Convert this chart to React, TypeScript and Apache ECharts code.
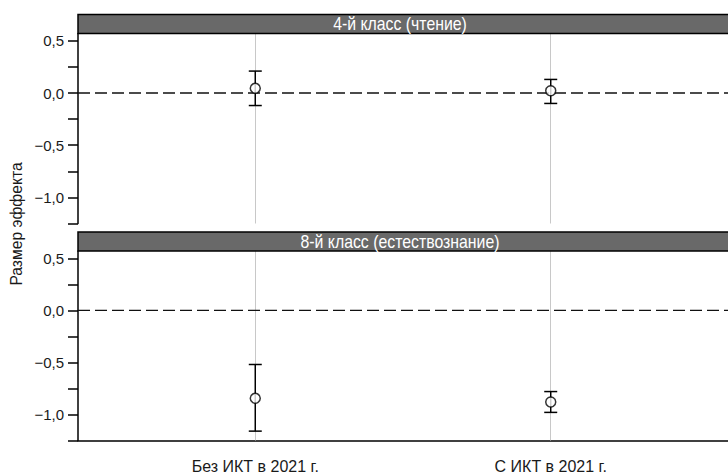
import React, { useEffect, useRef } from "react";
import * as echarts from "echarts";

const categories = ["Без ИКТ в 2021 г.", "С ИКТ в 2021 г."];
const categoryPositions = [1, 2];
const panelTitles = ["4-й класс (чтение)", "8-й класс (естествознание)"];
const yAxisTitle = "Размер эффекта";

const readingEstimate = [0.045, 0.022];
const readingLower = [-0.12, -0.1];
const readingUpper = [0.21, 0.13];

const scienceEstimate = [-0.845, -0.88];
const scienceLower = [-1.16, -0.98];
const scienceUpper = [-0.52, -0.78];

const yTickValues = [-1.25, -1, -0.75, -0.5, -0.25, 0, 0.25, 0.5];
const yLabelValues = [-1, -0.5, 0, 0.5];
const referenceValue = 0;
const xExtent = [0.4, 2.6];

const FONT = "'Liberation Sans', Arial, sans-serif";

const fmt = (v: number) => {
  const s = Math.abs(v).toFixed(1).replace(".", ",");
  return v < 0 ? "\u2212" + s : s;
};

export default function App() {
  const ref = useRef<HTMLDivElement>(null);
  useEffect(() => {
    document.body.style.margin = "0";
    const chart = echarts.init(ref.current!, null, { renderer: "svg" });

    const gridLeft = 78;
    const gridWidth = 654;
    const grids = [
      { left: gridLeft, top: 33.5, width: gridWidth, height: 190 },
      { left: gridLeft, top: 251, width: gridWidth, height: 189.5 },
    ];

    const xAxes = grids.map((_, i) => ({
      type: "value",
      gridIndex: i,
      min: xExtent[0],
      max: xExtent[1],
      axisLine: { show: i === 1, onZero: false, lineStyle: { color: "#000", width: 1.5 } },
      axisTick: { show: false },
      splitLine: { show: false },
      axisLabel: {
        show: i === 1,
        customValues: categoryPositions,
        formatter: (v: number) => categories[categoryPositions.indexOf(v)] ?? "",
        fontFamily: FONT,
        fontSize: 16,
        color: "#1a1a1a",
        margin: 18,
      },
    }));

    const yAxes = grids.map((_, i) => ({
      type: "value",
      gridIndex: i,
      min: -1.25,
      max: 0.57,
      axisLine: { show: true, onZero: false, lineStyle: { color: "#000", width: 1.5 } },
      axisTick: {
        show: true,
        length: 10,
        customValues: yTickValues,
        lineStyle: { color: "#000", width: 1.5 },
      },
      splitLine: { show: false },
      axisLabel: {
        customValues: yLabelValues,
        formatter: (v: number) => fmt(v),
        fontFamily: FONT,
        fontSize: 15,
        color: "#1a1a1a",
        margin: 14,
      },
    }));

    const panels = [
      { est: readingEstimate, lo: readingLower, hi: readingUpper },
      { est: scienceEstimate, lo: scienceLower, hi: scienceUpper },
    ];

    const series: any[] = [];
    panels.forEach((p, i) => {
      series.push({
        type: "scatter",
        xAxisIndex: i,
        yAxisIndex: i,
        data: [],
        silent: true,
        markLine: {
          silent: true,
          symbol: "none",
          z: 1,
          label: { show: false },
          lineStyle: { color: "#c8c8c8", width: 1, type: "solid" },
          data: categoryPositions.map((c) => ({ xAxis: c })),
        },
      });
      series.push({
        type: "line",
        xAxisIndex: i,
        yAxisIndex: i,
        z: 2,
        silent: true,
        symbol: "none",
        lineStyle: { color: "#111", width: 1.4, type: [12, 5] },
        data: [
          [xExtent[0], referenceValue],
          [xExtent[1], referenceValue],
        ],
      });
      series.push({
        type: "custom",
        xAxisIndex: i,
        yAxisIndex: i,
        z: 3,
        silent: true,
        encode: { x: 0, y: [1, 2] },
        data: categoryPositions.map((c, k) => [c, p.lo[k], p.hi[k]]),
        renderItem: (params: any, api: any) => {
          const x = api.value(0);
          const top = api.coord([x, api.value(2)]);
          const bot = api.coord([x, api.value(1)]);
          const w = 6.5;
          const st = { stroke: "#000", lineWidth: 1.5 };
          return {
            type: "group",
            children: [
              { type: "line", shape: { x1: top[0], y1: top[1], x2: bot[0], y2: bot[1] }, style: st },
              { type: "line", shape: { x1: top[0] - w, y1: top[1], x2: top[0] + w, y2: top[1] }, style: st },
              { type: "line", shape: { x1: bot[0] - w, y1: bot[1], x2: bot[0] + w, y2: bot[1] }, style: st },
            ],
          };
        },
      });
      series.push({
        type: "scatter",
        xAxisIndex: i,
        yAxisIndex: i,
        z: 4,
        silent: true,
        symbol: "circle",
        symbolSize: 10,
        itemStyle: { color: "#fff", borderColor: "#000", borderWidth: 1.5 },
        data: categoryPositions.map((c, k) => [c, p.est[k]]),
      });
    });

    const stripTops = [14.5, 232];
    const stripH = 19;
    const graphic: any[] = [];
    stripTops.forEach((t, i) => {
      graphic.push({
        type: "rect",
        shape: { x: gridLeft, y: t, width: gridWidth + 10, height: stripH },
        style: { fill: "#696969", stroke: "#000", lineWidth: 1.5 },
        z: 10,
      });
      graphic.push({
        type: "text",
        x: 400,
        y: t + stripH / 2 + 0.5,
        scaleX: 0.88,
        style: {
          text: panelTitles[i],
          fill: "#fff",
          font: `18px ${FONT}`,
          textAlign: "center",
          textVerticalAlign: "middle",
        },
        z: 11,
      });
    });
    graphic.push({
      type: "text",
      x: 16,
      y: 224,
      rotation: Math.PI / 2,
      scaleX: 0.92,
      style: {
        text: yAxisTitle,
        fill: "#1a1a1a",
        font: `17px ${FONT}`,
        textAlign: "center",
        textVerticalAlign: "middle",
      },
    });

    chart.setOption({
      animation: false,
      backgroundColor: "#fff",
      grid: grids,
      xAxis: xAxes,
      yAxis: yAxes,
      series,
      graphic,
    });
    return () => chart.dispose();
  }, []);
  return <div ref={ref} style={{ width: 728, height: 476 }} />;
}
